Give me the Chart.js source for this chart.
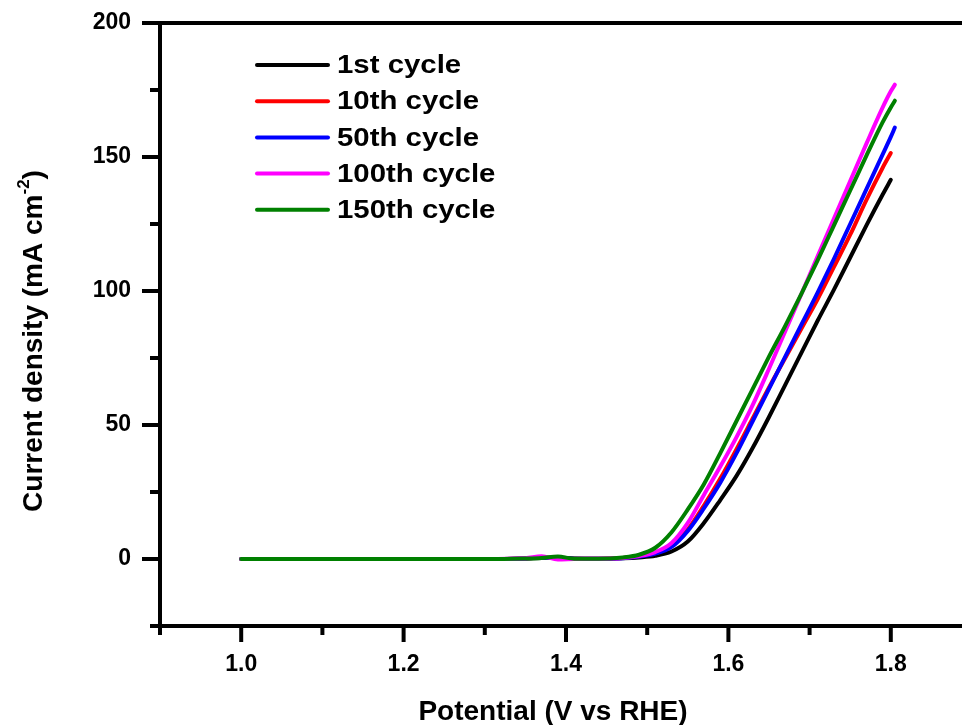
<!DOCTYPE html>
<html>
<head>
<meta charset="utf-8">
<script src="https://cdn.jsdelivr.net/npm/chart.js@4.4.1/dist/chart.umd.min.js"></script>
<style>
  html, body { margin: 0; padding: 0; background: #fff; overflow: hidden; }
  canvas { display: block; }
</style>
</head>
<body>
<canvas id="lsvChart" width="974" height="725"></canvas>
<script>
// Potential (V vs RHE) shared by all cycles
const potential = [1.00, 1.10, 1.20, 1.30, 1.35, 1.37, 1.39, 1.41, 1.44, 1.47, 1.49, 1.51, 1.53, 1.55,
                   1.57, 1.59, 1.61, 1.63, 1.65, 1.67, 1.69, 1.71, 1.73, 1.75, 1.77, 1.79, 1.80, 1.805];

// Current density (mA cm-2) per cycle
const cycle1   = [0, 0, 0, 0, 0.2, 0.4, 0.5, 0.2, 0.1, 0.3, 0.6, 1.2, 2.8, 6.5,
                  13.5, 22, 31, 41.5, 53, 65, 77, 89, 100.5, 112.5, 124.5, 136, 141.5, null];
const cycle10  = [0, 0, 0, 0, 0.2, 0.5, 0.5, 0.1, 0.1, 0.4, 1.0, 2.2, 4.8, 11,
                  20, 30, 41, 52.5, 64, 75, 86, 97, 109, 121, 134, 146, 151.5, null];
const cycle50  = [0, 0, 0, 0, 0.2, 0.5, 0.4, 0.1, 0.1, 0.3, 0.9, 2.0, 4.5, 10.5,
                  19, 28.5, 39.5, 51.5, 63.5, 75.5, 87.5, 99.5, 112, 125, 138, 151, 157.5, 161];
const cycle100 = [0, 0, 0, 0, 0.3, 1.0, -0.2, 0, 0.1, 0.4, 1.1, 2.6, 6.0, 13.5,
                  24, 34.5, 45.5, 57.5, 71, 85, 99, 113, 127, 141, 155, 168.5, 174.5, 177];
const cycle150 = [0, 0, 0, 0, 0.2, 0.4, 0.9, 0.1, 0.1, 0.6, 1.6, 4.2, 10, 18.5,
                  28, 39.5, 51.5, 63.5, 75.5, 87, 99, 111.5, 124.5, 137.5, 150.5, 163, 168.5, 171];

const seriesNames  = ['1st cycle', '10th cycle', '50th cycle', '100th cycle', '150th cycle'];
const seriesValues = [cycle1, cycle10, cycle50, cycle100, cycle150];
const seriesColors = ['#000000', '#ff0000', '#0000ff', '#ff00ff', '#008000'];

const tickFont = { family: 'Liberation Sans, Arial, sans-serif', size: 23, weight: 'bold' };

// ticks (major / minor), top frame, axis titles
const axisDecor = {
  id: 'axisDecor',
  afterDraw(chart) {
    const { ctx, chartArea: a, scales: { x, y } } = chart;
    ctx.save();
    ctx.strokeStyle = '#000';
    ctx.lineWidth = 4;
    ctx.lineCap = 'butt';

    ctx.beginPath();
    ctx.moveTo(a.left - 2, a.top);
    ctx.lineTo(a.right + 2, a.top);
    ctx.stroke();

    x.ticks.forEach(t => {
      const px = x.getPixelForValue(t.value);
      const len = Math.round(t.value * 10) % 2 === 0 ? 16 : 9;
      ctx.beginPath();
      ctx.moveTo(px, a.bottom);
      ctx.lineTo(px, a.bottom + len);
      ctx.stroke();
    });
    y.ticks.forEach(t => {
      const py = y.getPixelForValue(t.value);
      const len = t.value % 50 === 0 ? 18 : 10;
      ctx.beginPath();
      ctx.moveTo(a.left, py);
      ctx.lineTo(a.left - len, py);
      ctx.stroke();
    });

    // axis titles
    ctx.fillStyle = '#000';
    ctx.font = 'bold 28px "Liberation Sans", Arial, sans-serif';
    ctx.textAlign = 'center';
    ctx.textBaseline = 'alphabetic';
    ctx.fillText('Potential (V vs RHE)', 553, 720);

    ctx.translate(42, 341);
    ctx.rotate(-Math.PI / 2);
    ctx.textAlign = 'left';
    const main = 'Current density (mA cm';
    const sup = '-2';
    const big = 'bold 28px "Liberation Sans", Arial, sans-serif';
    const small = 'bold 17px "Liberation Sans", Arial, sans-serif';
    ctx.font = big;
    const w1 = ctx.measureText(main).width;
    const w3 = ctx.measureText(')').width;
    ctx.font = small;
    const w2 = ctx.measureText(sup).width;
    let sx = -(w1 + w2 + w3) / 2;
    ctx.font = big;
    ctx.fillText(main, sx, 0);
    sx += w1;
    ctx.font = small;
    ctx.fillText(sup, sx, -13);
    sx += w2;
    ctx.font = big;
    ctx.fillText(')', sx, 0);
    ctx.restore();
  }
};

// legend in the upper left of the plot
const cycleLegend = {
  id: 'cycleLegend',
  afterDraw(chart) {
    const { ctx } = chart;
    ctx.save();
    chart.data.datasets.forEach((ds, i) => {
      const ly = 65 + i * 36.2;
      ctx.strokeStyle = ds.borderColor;
      ctx.lineWidth = 4;
      ctx.lineCap = 'round';
      ctx.beginPath();
      ctx.moveTo(257, ly);
      ctx.lineTo(328, ly);
      ctx.stroke();

      ctx.fillStyle = '#000';
      ctx.font = 'bold 26px "Liberation Sans", Arial, sans-serif';
      ctx.textAlign = 'left';
      ctx.textBaseline = 'middle';
      ctx.save();
      ctx.translate(337, ly + 1);
      ctx.scale(1.13, 1);
      ctx.fillText(ds.label, 0, 0);
      ctx.restore();
    });
    ctx.restore();
  }
};

const datasets = seriesNames.map((name, i) => ({
  label: name,
  data: seriesValues[i].map((v, k) => ({ x: potential[k], y: v })),
  borderColor: seriesColors[i],
  backgroundColor: seriesColors[i],
  borderWidth: 4,
  borderCapStyle: 'round',
  borderJoinStyle: 'round',
  pointRadius: 0,
  cubicInterpolationMode: 'monotone',
  fill: false,
  order: seriesNames.length - i   // later cycles drawn on top
}));

const ctx = document.getElementById('lsvChart').getContext('2d');
new Chart(ctx, {
  type: 'line',
  data: { datasets: datasets },
  options: {
    responsive: false,
    animation: false,
    devicePixelRatio: 1,
    layout: { padding: { top: 23, right: 2, left: 0, bottom: 0 } },
    plugins: {
      legend: { display: false },
      tooltip: { enabled: false }
    },
    scales: {
      x: {
        type: 'linear',
        min: 0.9,
        max: 1.9,
        afterFit: s => { s.height = 99; },
        grid: { display: true, drawOnChartArea: false, drawTicks: true, tickLength: 25, tickColor: 'rgba(0,0,0,0)' },
        border: { display: true, color: '#000', width: 4 },
        ticks: {
          stepSize: 0.1,
          autoSkip: false,
          maxRotation: 0,
          padding: 0,
          color: '#000',
          font: tickFont,
          callback: v => Math.round(v * 10) % 2 === 0 ? v.toFixed(1) : ''
        }
      },
      y: {
        type: 'linear',
        min: -25,
        max: 200,
        afterFit: s => { s.width = 160; },
        grid: { display: true, drawOnChartArea: false, drawTicks: true, tickLength: 29, tickColor: 'rgba(0,0,0,0)' },
        border: { display: true, color: '#000', width: 4 },
        ticks: {
          stepSize: 25,
          autoSkip: false,
          padding: 0,
          color: '#000',
          font: tickFont,
          callback: v => v % 50 === 0 ? String(v) : ''
        }
      }
    }
  },
  plugins: [axisDecor, cycleLegend]
});
</script>
</body>
</html>
